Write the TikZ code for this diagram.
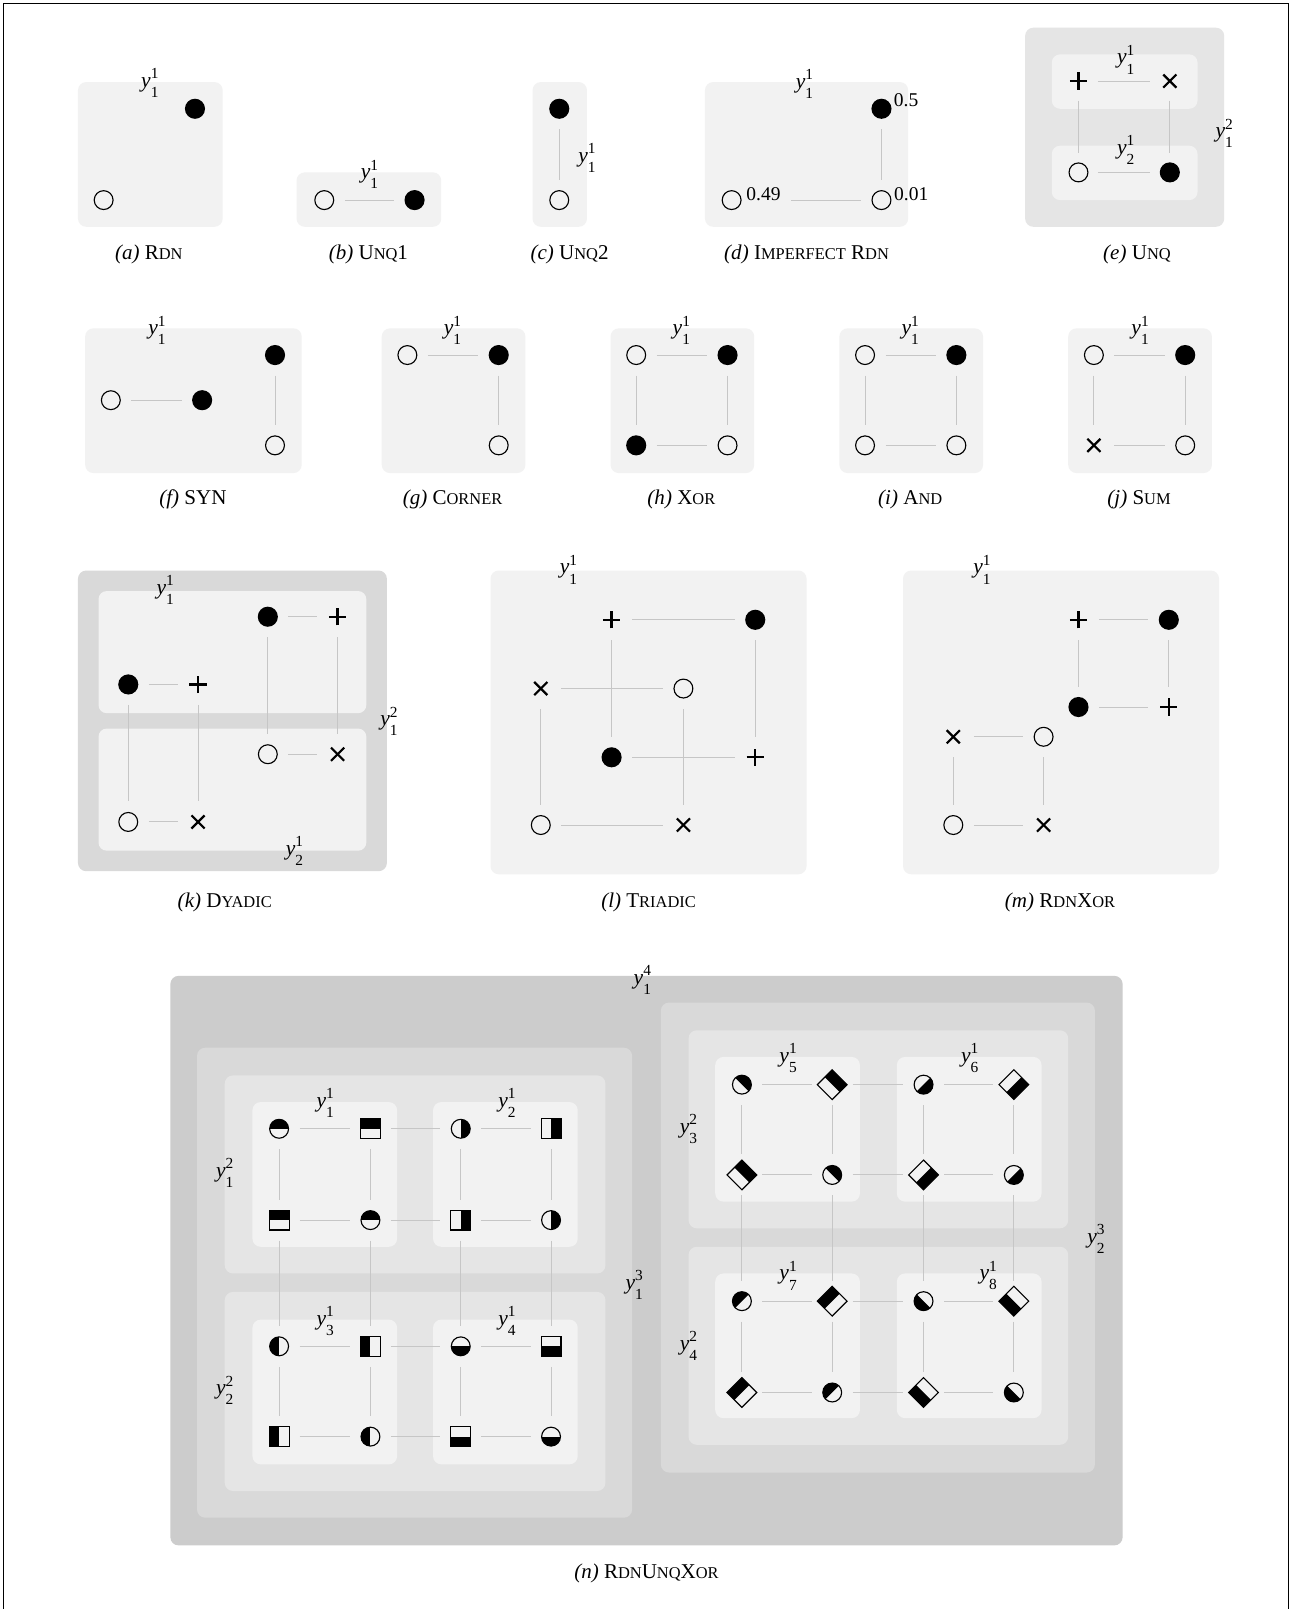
\documentclass[tikz,border=0pt]{standalone}
\usepackage{fontspec}
\setmainfont{Liberation Serif}
\usetikzlibrary{shapes.geometric}
\definecolor{gA}{HTML}{F2F2F2}
\definecolor{gB}{HTML}{E5E5E5}
\definecolor{gC}{HTML}{D9D9D9}
\definecolor{gD}{HTML}{CCCCCC}
\definecolor{lnc}{HTML}{C6C6C6}
\newcommand{\smc}[1]{{\fontsize{16}{16}\selectfont #1}}
\newcommand{\yy}[2]{\textit{y}\rlap{\raisebox{8.6pt}{\fontsize{15}{15}\selectfont #1}}\raisebox{-9.8pt}{\fontsize{15}{15}\selectfont #2}}
\begin{document}
\begin{tikzpicture}[x=1pt,y=-1pt,
  bA/.style={fill=gA,rounded corners=8pt},
  bB/.style={fill=gB,rounded corners=8pt},
  bC/.style={fill=gC,rounded corners=8pt},
  bD/.style={fill=gD,rounded corners=8pt},
  sym/.style={inner sep=0pt,outer sep=0pt},
  opn/.style={sym,circle,draw,line width=1.1pt,minimum size=18.4pt},
  ful/.style={sym,circle,fill=black,minimum size=19.6pt},
  pls/.style={sym,circle,minimum size=24pt,path picture={
     \draw[line width=2.2pt] ([xshift=-8.4pt]path picture bounding box.center) -- ([xshift=8.4pt]path picture bounding box.center);
     \draw[line width=2.2pt] ([yshift=-8.4pt]path picture bounding box.center) -- ([yshift=8.4pt]path picture bounding box.center);}},
  crs/.style={sym,circle,minimum size=24pt,path picture={
     \draw[line width=2.1pt] ([shift={(-6.4pt,-6.4pt)}]path picture bounding box.center) -- ([shift={(6.4pt,6.4pt)}]path picture bounding box.center);
     \draw[line width=2.1pt] ([shift={(-6.4pt,6.4pt)}]path picture bounding box.center) -- ([shift={(6.4pt,-6.4pt)}]path picture bounding box.center);}},
  halfpic/.style={path picture={\fill[black] (path picture bounding box.center) ++(#1+90:17pt) -- ++(#1:17pt) -- ++(#1-90:34pt) -- ++(#1+180:17pt) -- cycle;}},
  hcirc/.style={sym,circle,draw,line width=1.1pt,minimum size=18.4pt,halfpic=#1},
  hsq/.style={sym,rectangle,draw,line width=1.1pt,minimum size=19.4pt,halfpic=#1},
  hdia/.style={sym,diamond,aspect=1,draw,line width=1.1pt,minimum size=29pt,halfpic=#1},
  cn/.style={draw=lnc,line width=0.9pt,shorten <=20pt,shorten >=20pt},
  lab/.style={inner sep=0pt,font=\fontsize{21}{22}\selectfont},
  num/.style={inner sep=0pt,font=\fontsize{19}{21}\selectfont},
  capt/.style={inner sep=0pt,font=\fontsize{20.5}{22}\selectfont}
]
\useasboundingbox (0,0) rectangle (1266,1568);
\fill[white] (0,0) rectangle (1266,1568);
\draw[line width=0.8pt] (3,1570) -- (3,3) -- (1256,3) -- (1256,1570);

% (a) RDN
\fill[bA] (76,80) rectangle (217,221);
\node[ful] (a1) at (190,106) {};
\node[opn] (a2) at (101,195) {};
\node[lab] (la) at (146,81) {\yy11};
\node[capt] (ca) at (145,248) {\textit{(a)} R\smc{DN}};

% (b) UNQ1
\fill[bA] (289,168) rectangle (430,221);
\node[opn] (b1) at (316,195) {};
\node[ful] (b2) at (404,195) {};
\draw[cn] (b1.center) -- (b2.center);
\node[lab] (lb) at (360,170) {\yy11};
\node[capt] (cb) at (359,248) {\textit{(b)} U\smc{NQ}1};

% (c) UNQ2
\fill[bA] (519,80) rectangle (572,221);
\node[ful] (c1) at (545,106) {};
\node[opn] (c2) at (545,195) {};
\draw[cn] (c1.center) -- (c2.center);
\node[lab] (lc) at (572,154) {\yy11};
\node[capt] (cc) at (555,248) {\textit{(c)} U\smc{NQ}2};

% (d) IMPERFECT RDN
\fill[bA] (687,80) rectangle (885,221);
\node[ful] (d1) at (859,106) {};
\node[opn] (d2) at (859,195) {};
\node[opn] (d3) at (713,195) {};
\draw[cn] (d1.center) -- (d2.center);
\draw[cn,shorten <=58pt] (d3.center) -- (d2.center);
\node[num] (n1) at (883,98) {0.5};
\node[num] (n2) at (744,189) {0.49};
\node[num] (n3) at (888,189) {0.01};
\node[lab] (ld) at (784,82) {\yy11};
\node[capt] (cd) at (786,248) {\textit{(d)} I\smc{MPERFECT} R\smc{DN}};

% (e) UNQ
\fill[bB] (999,27) rectangle (1193,221);
\fill[bA] (1025,53) rectangle (1167,106);
\fill[bA] (1025,142) rectangle (1167,195);
\node[pls] (e1) at (1051,79) {};
\node[crs] (e2) at (1140,79) {};
\node[opn] (e3) at (1051,168) {};
\node[ful] (e4) at (1140,168) {};
\draw[cn,shorten <=19pt,shorten >=19pt] (e1.center) -- (e2.center);
\draw[cn,shorten <=19pt,shorten >=19pt] (e3.center) -- (e4.center);
\draw[cn,shorten <=19pt,shorten >=19pt] (e1.center) -- (e3.center);
\draw[cn,shorten <=19pt,shorten >=19pt] (e2.center) -- (e4.center);
\node[lab] (le1) at (1097,58) {\yy11};
\node[lab] (le2) at (1097,146) {\yy12};
\node[lab] (le3) at (1193,130) {\yy21};
\node[capt] (ce) at (1108,248) {\textit{(e)} U\smc{NQ}};

% (f) SYN
\fill[bA] (83,320) rectangle (294,461);
\node[ful] (f1) at (268,346) {};
\node[opn] (f2) at (268,434) {};
\node[opn] (f3) at (108,390) {};
\node[ful] (f4) at (197,390) {};
\draw[cn] (f1.center) -- (f2.center);
\draw[cn] (f3.center) -- (f4.center);
\node[lab] (lf) at (153,322) {\yy11};
\node[capt] (cf) at (188,487) {\textit{(f)} SYN};

% (g) CORNER
\fill[bA] (372,320) rectangle (512,461);
\node[opn] (g1) at (397,346) {};
\node[ful] (g2) at (486,346) {};
\node[opn] (g3) at (486,434) {};
\draw[cn] (g1.center) -- (g2.center);
\draw[cn] (g2.center) -- (g3.center);
\node[lab] (lg) at (441,322) {\yy11};
\node[capt] (cg) at (441,487) {\textit{(g)} C\smc{ORNER}};

% (h) XOR
\fill[bA] (595,320) rectangle (735,461);
\node[opn] (h1) at (620,346) {};
\node[ful] (h2) at (709,346) {};
\node[ful] (h3) at (620,434) {};
\node[opn] (h4) at (709,434) {};
\draw[cn] (h1.center) -- (h2.center);
\draw[cn] (h3.center) -- (h4.center);
\draw[cn] (h1.center) -- (h3.center);
\draw[cn] (h2.center) -- (h4.center);
\node[lab] (lh) at (664,322) {\yy11};
\node[capt] (ch) at (664,487) {\textit{(h)} X\smc{OR}};

% (i) AND
\fill[bA] (818,320) rectangle (958,461);
\node[opn] (i1) at (843,346) {};
\node[ful] (i2) at (932,346) {};
\node[opn] (i3) at (843,434) {};
\node[opn] (i4) at (932,434) {};
\draw[cn] (i1.center) -- (i2.center);
\draw[cn] (i3.center) -- (i4.center);
\draw[cn] (i1.center) -- (i3.center);
\draw[cn] (i2.center) -- (i4.center);
\node[lab] (li) at (887,322) {\yy11};
\node[capt] (ci) at (887,487) {\textit{(i)} A\smc{ND}};

% (j) SUM
\fill[bA] (1041,320) rectangle (1181,461);
\node[opn] (j1) at (1066,346) {};
\node[ful] (j2) at (1155,346) {};
\node[crs] (j3) at (1066,434) {};
\node[opn] (j4) at (1155,434) {};
\draw[cn] (j1.center) -- (j2.center);
\draw[cn] (j3.center) -- (j4.center);
\draw[cn] (j1.center) -- (j3.center);
\draw[cn] (j2.center) -- (j4.center);
\node[lab] (lj) at (1111,322) {\yy11};
\node[capt] (cj) at (1110,487) {\textit{(j)} S\smc{UM}};

% (k) DYADIC
\fill[bC] (76,556) rectangle (377,849);
\fill[bA] (96,576) rectangle (357,695);
\fill[bA] (96,710) rectangle (357,829);
\node[ful] (k1) at (125,667) {};
\node[pls] (k2) at (193,667) {};
\node[ful] (k3) at (261,601) {};
\node[pls] (k4) at (329,601) {};
\node[opn] (k5) at (261,735) {};
\node[crs] (k6) at (329,735) {};
\node[opn] (k7) at (125,801) {};
\node[crs] (k8) at (193,801) {};
\draw[cn] (k1.center) -- (k2.center);
\draw[cn] (k3.center) -- (k4.center);
\draw[cn] (k5.center) -- (k6.center);
\draw[cn] (k7.center) -- (k8.center);
\draw[cn] (k1.center) -- (k7.center);
\draw[cn] (k2.center) -- (k8.center);
\draw[cn] (k3.center) -- (k5.center);
\draw[cn] (k4.center) -- (k6.center);
\node[lab] (lk1) at (161,575) {\yy11};
\node[lab] (lk2) at (379,703) {\yy21};
\node[lab] (lk3) at (287,829) {\yy12};
\node[capt] (ck) at (219,879) {\textit{(k)} D\smc{YADIC}};

% (l) TRIADIC
\fill[bA] (478,556) rectangle (786,852);
\node[pls] (l1) at (596,604) {};
\node[ful] (l2) at (736,604) {};
\node[crs] (l3) at (527,671) {};
\node[opn] (l4) at (666,671) {};
\node[ful] (l5) at (596,738) {};
\node[pls] (l6) at (736,738) {};
\node[opn] (l7) at (527,804) {};
\node[crs] (l8) at (666,804) {};
\draw[cn] (l1.center) -- (l2.center);
\draw[cn] (l3.center) -- (l4.center);
\draw[cn] (l5.center) -- (l6.center);
\draw[cn] (l7.center) -- (l8.center);
\draw[cn] (l1.center) -- (l5.center);
\draw[cn] (l2.center) -- (l6.center);
\draw[cn] (l3.center) -- (l7.center);
\draw[cn] (l4.center) -- (l8.center);
\node[lab] (ll) at (554,555) {\yy11};
\node[capt] (cl) at (632,879) {\textit{(l)} T\smc{RIADIC}};

% (m) RDNXOR
\fill[bA] (880,556) rectangle (1188,852);
\node[pls] (m1) at (1051,604) {};
\node[ful] (m2) at (1139,604) {};
\node[ful] (m3) at (1051,689) {};
\node[pls] (m4) at (1139,689) {};
\node[crs] (m5) at (929,718) {};
\node[opn] (m6) at (1017,718) {};
\node[opn] (m7) at (929,804) {};
\node[crs] (m8) at (1017,804) {};
\draw[cn] (m1.center) -- (m2.center);
\draw[cn] (m3.center) -- (m4.center);
\draw[cn] (m1.center) -- (m3.center);
\draw[cn] (m2.center) -- (m4.center);
\draw[cn] (m5.center) -- (m6.center);
\draw[cn] (m7.center) -- (m8.center);
\draw[cn] (m5.center) -- (m7.center);
\draw[cn] (m6.center) -- (m8.center);
\node[lab] (lm) at (957,555) {\yy11};
\node[capt] (cm) at (1033,879) {\textit{(m)} R\smc{DN}X\smc{OR}};

% (n) RDNUNQXOR
\fill[bD] (166,951) rectangle (1094,1506);
\fill[bC] (192,1021) rectangle (616,1479);
\fill[bC] (644,977) rectangle (1067,1435);
\fill[bB] (219,1048) rectangle (590,1241);
\fill[bB] (219,1259) rectangle (590,1453);
\fill[bB] (671,1004) rectangle (1041,1197);
\fill[bB] (671,1215) rectangle (1041,1408);
\foreach \xa/\ya in {246/1074,422/1074,246/1286,422/1286,697/1030,874/1030,697/1241,874/1241}
  \fill[bA] (\xa,\ya) rectangle ++(141,141);
% left grid
\foreach \r/\yv in {1/1100,2/1189,3/1312,4/1400} {
  \foreach \c/\xv in {1/272,2/361,3/449,4/537} {
    \pgfmathtruncatemacro{\pp}{mod(\r+\c,2)}
    \pgfmathtruncatemacro{\dd}{(\r<3)*(\c<3)*90+(\r>2)*(\c<3)*180+(\r>2)*(\c>2)*270}
    \ifnum\pp=0
      \node[hcirc=\dd] (L\r\c) at (\xv,\yv) {};
    \else
      \node[hsq=\dd] (L\r\c) at (\xv,\yv) {};
    \fi
  }
}
% right grid
\foreach \r/\yv in {1/1057,2/1145,3/1268,4/1357} {
  \foreach \c/\xv in {1/723,2/811,3/900,4/988} {
    \pgfmathtruncatemacro{\pp}{mod(\r+\c,2)}
    \pgfmathtruncatemacro{\dd}{(\r<3)*(\c<3)*45+(\r<3)*(\c>2)*315+(\r>2)*(\c<3)*135+(\r>2)*(\c>2)*225}
    \ifnum\pp=0
      \node[hcirc=\dd] (R\r\c) at (\xv,\yv) {};
    \else
      \node[hdia=\dd] (R\r\c) at (\xv,\yv) {};
    \fi
  }
}
\foreach \r in {1,2,3,4} {
  \foreach \c/\n in {1/2,2/3,3/4} {
    \draw[cn] (L\r\c.center) -- (L\r\n.center);
    \draw[cn] (R\r\c.center) -- (R\r\n.center);
    \draw[cn] (L\c\r.center) -- (L\n\r.center);
    \draw[cn] (R\c\r.center) -- (R\n\r.center);
  }
}
\node[lab] (n14) at (626,955) {\yy41};
\node[lab] (n13) at (618,1252) {\yy31};
\node[lab] (n23) at (1068,1207) {\yy32};
\node[lab] (n12) at (219,1143) {\yy21};
\node[lab] (n22) at (219,1355) {\yy22};
\node[lab] (n32) at (671,1100) {\yy23};
\node[lab] (n42) at (671,1312) {\yy24};
\node[lab] (n11) at (317,1075) {\yy11};
\node[lab] (n21) at (494,1075) {\yy12};
\node[lab] (n31) at (317,1287) {\yy13};
\node[lab] (n41) at (494,1287) {\yy14};
\node[lab] (n51) at (768,1031) {\yy15};
\node[lab] (n61) at (945,1031) {\yy16};
\node[lab] (n71) at (768,1243) {\yy17};
\node[lab] (n81) at (963,1243) {\yy18};
\node[capt] (cn) at (630,1533) {\textit{(n)} R\smc{DN}U\smc{NQ}X\smc{OR}};
\end{tikzpicture}
\end{document}
